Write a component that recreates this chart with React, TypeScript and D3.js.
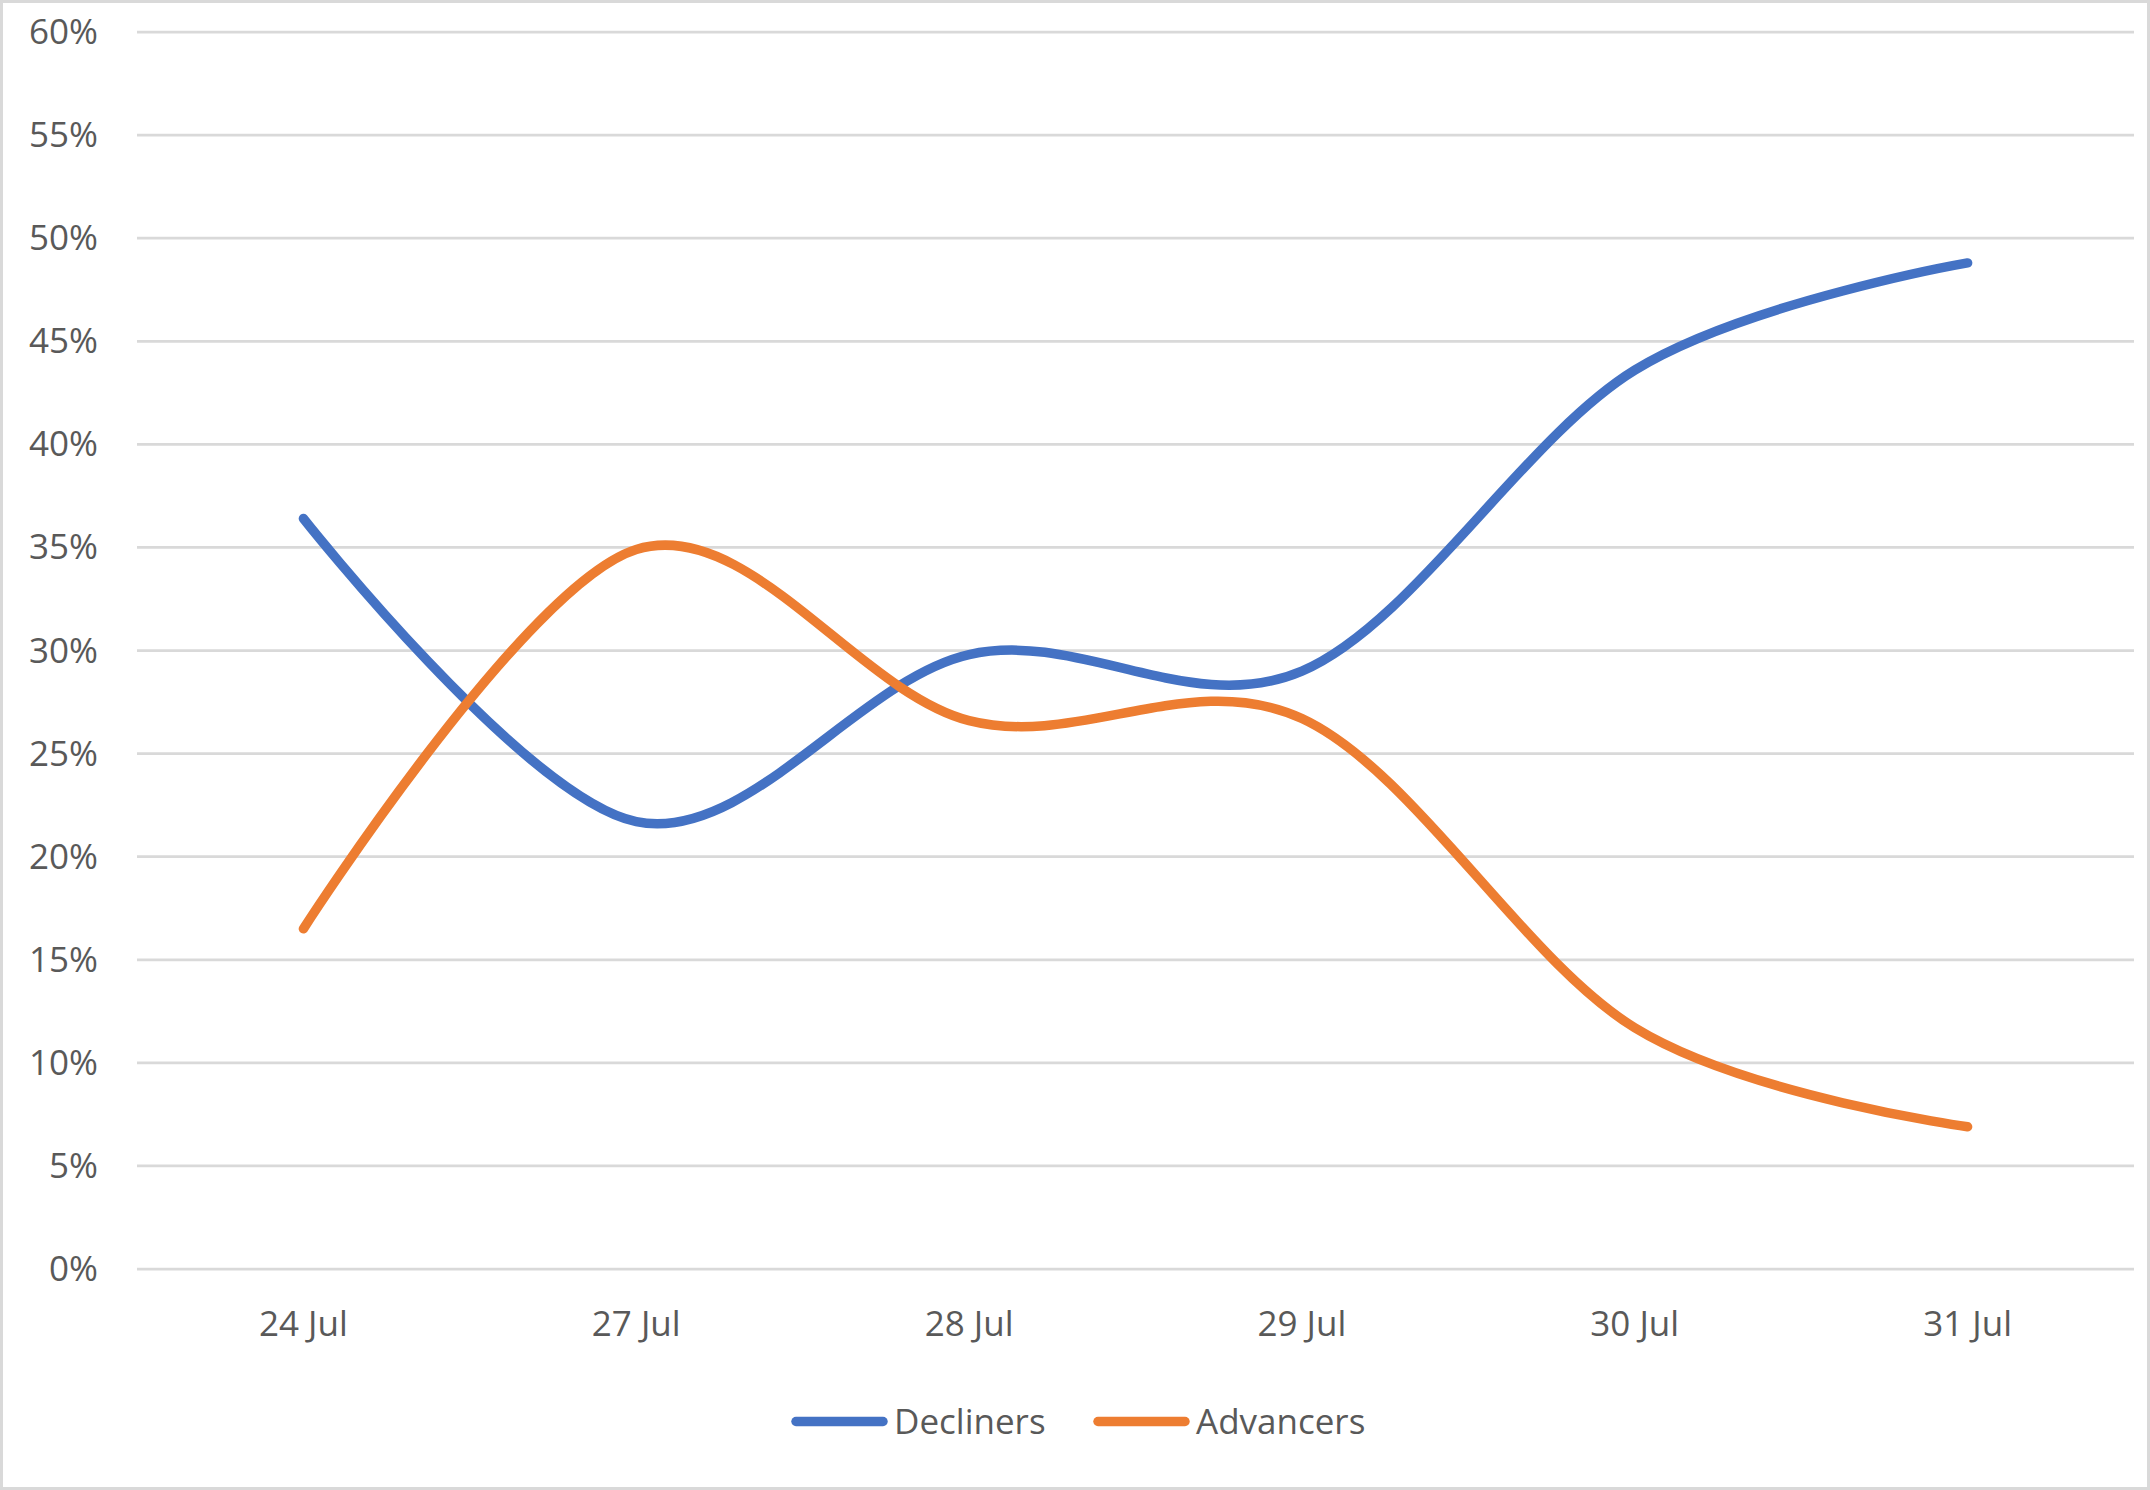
import React from "react";
import * as d3 from "d3";

const categories = ["24 Jul", "27 Jul", "28 Jul", "29 Jul", "30 Jul", "31 Jul"];
const decliners = [0.364, 0.217, 0.298, 0.29, 0.436, 0.488];
const advancers = [0.165, 0.349, 0.266, 0.267, 0.117, 0.069];
const yTickValues = [0, 0.05, 0.1, 0.15, 0.2, 0.25, 0.3, 0.35, 0.4, 0.45, 0.5, 0.55, 0.6];
const seriesNames = ["Decliners", "Advancers"];
const seriesColors = ["#4472C4", "#ED7D31"];

const W = 2150;
const H = 1490;
const FONT = "'Open Sans', 'Noto Sans', sans-serif";
const TEXT = "#595959";
const GRID = "#D9D9D9";

export default function App() {
  const x = d3.scaleBand<string>().domain(categories).range([137, 2134]).padding(0);
  const y = d3.scaleLinear().domain([0, 0.6]).range([1269, 32]);
  const cx = (c: string) => (x(c) as number) + x.bandwidth() / 2;
  const line = d3
    .line<number>()
    .x((_, i) => cx(categories[i]))
    .y((v) => y(v))
    .curve(d3.curveCardinal.tension(0));
  const fmt = d3.format(".0%");
  const series = [decliners, advancers];
  const legendX = [791, 1093];

  return (
    <div style={{ position: "absolute", left: 0, top: 0 }}>
      <svg width={W} height={H} style={{ display: "block" }}>
        <rect x={0} y={0} width={W} height={H} fill="#FFFFFF" />
        <rect x={1.5} y={1.5} width={W - 3} height={H - 3} fill="none" stroke={GRID} strokeWidth={3} />
        {yTickValues.map((t) => (
          <g key={t}>
            <line x1={137} x2={2134} y1={y(t)} y2={y(t)} stroke={GRID} strokeWidth={2.75} />
            <text
              x={98}
              y={y(t) + 12}
              textAnchor="end"
              fontFamily={FONT}
              fontSize={35}
              fill={TEXT}
            >
              {fmt(t)}
            </text>
          </g>
        ))}
        {categories.map((c) => (
          <text
            key={c}
            x={cx(c)}
            y={1336}
            textAnchor="middle"
            fontFamily={FONT}
            fontSize={35}
            fill={TEXT}
          >
            {c}
          </text>
        ))}
        {series.map((s, i) => (
          <path
            key={seriesNames[i]}
            d={line(s) || ""}
            fill="none"
            stroke={seriesColors[i]}
            strokeWidth={9.5}
            strokeLinecap="round"
            strokeLinejoin="round"
          />
        ))}
        {seriesNames.map((n, i) => (
          <g key={n}>
            <line
              x1={legendX[i] + 5}
              x2={legendX[i] + 92}
              y1={1421.5}
              y2={1421.5}
              stroke={seriesColors[i]}
              strokeWidth={9.5}
              strokeLinecap="round"
            />
            <text x={legendX[i] + 103} y={1434} fontFamily={FONT} fontSize={35} fill={TEXT}>
              {n}
            </text>
          </g>
        ))}
      </svg>
    </div>
  );
}
